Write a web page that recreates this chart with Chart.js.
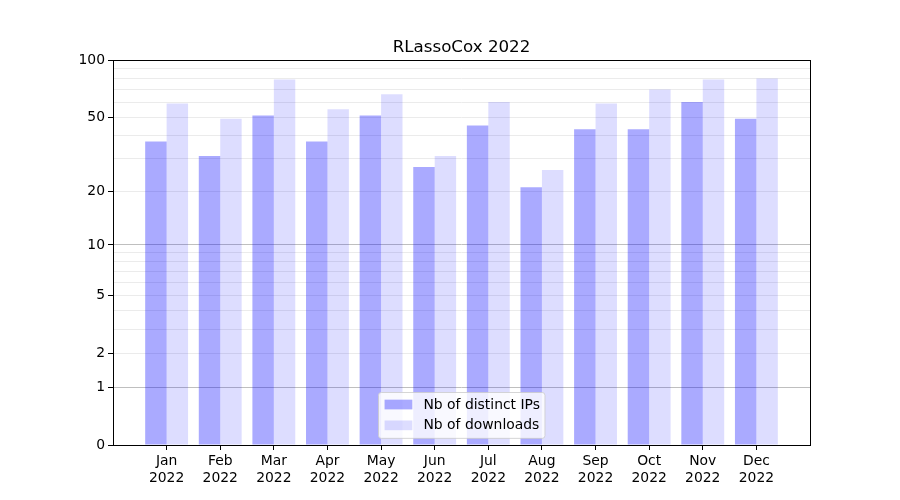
<!DOCTYPE html>
<html><head><meta charset="utf-8">
<script src="https://cdn.jsdelivr.net/npm/chart.js@4.4.1/dist/chart.umd.min.js"></script>
<style>html,body{margin:0;padding:0;background:#fff}#wrap{width:900px;height:500px;position:relative}</style>
</head><body><div id="wrap"><canvas id="c" width="900" height="500"></canvas></div>
<script>
const chartTitle = 'RLassoCox 2022';
const months = ['Jan','Feb','Mar','Apr','May','Jun','Jul','Aug','Sep','Oct','Nov','Dec'];
const year = '2022';
const seriesNames = ['Nb of distinct IPs', 'Nb of downloads'];
const distinctIPs = [37, 31, 51, 37, 51, 27, 45, 21, 43, 43, 60, 49];
const downloads   = [59, 49, 79, 55, 66, 31, 60, 26, 59, 70, 79, 80];
const yTickValues = [0,1,2,3,4,5,6,7,8,9,10,20,30,40,50,60,70,80,90,100];
const yLabelled = [0,1,2,5,10,20,50,100];
const yMajor = [1,10,100];
const seriesColors = ['rgba(0,0,255,0.333)', 'rgba(0,0,255,0.133)'];

const FONT = 'DejaVu Sans';
const f = v => Math.log10(1 + v);
const inv = t => Math.round(Math.pow(10, t) - 1);

const labels = [''].concat(months.map(m => [m, year])).concat(['']);
const pad = arr => [null].concat(arr.map(f)).concat([null]);

const framePlugin = {
  id: 'frameLegend',
  afterDatasetsDraw(chart) {
    const ca = chart.chartArea, ctx = chart.ctx;
    ctx.save();
    ctx.strokeStyle = '#000';
    ctx.lineWidth = 1;
    ctx.strokeRect(Math.round(ca.left) + 0.5, Math.round(ca.top) + 0.5,
                   Math.round(ca.right - ca.left), Math.round(ca.bottom - ca.top));
    // title, centred on the plot area
    ctx.fillStyle = '#000';
    ctx.font = '16.7px "' + FONT + '"';
    ctx.textAlign = 'center';
    ctx.textBaseline = 'middle';
    ctx.fillText(chartTitle, (ca.left + ca.right) / 2, ca.top - 12.5);
    // legend
    const fs = 13.9;
    ctx.font = fs + 'px "' + FONT + '"';
    const tw = Math.max(...seriesNames.map(s => ctx.measureText(s).width));
    const bp = 0.4 * fs, hl = 2.0 * fs, htp = 0.8 * fs, ls = 0.5 * fs;
    const w = 2 * bp + hl + htp + tw;
    const h = 2 * bp + 2 * fs + ls;
    const cx = (ca.left + ca.right) / 2;
    const x0 = Math.round(cx - w / 2);
    const y0 = Math.round(ca.bottom - 0.5 * fs - h);
    ctx.beginPath();
    if (ctx.roundRect) ctx.roundRect(x0 + 0.5, y0 + 0.5, w, h, 2.8); else ctx.rect(x0 + 0.5, y0 + 0.5, w, h);
    ctx.fillStyle = 'rgba(255,255,255,0.8)';
    ctx.fill();
    ctx.strokeStyle = 'rgba(204,204,204,0.8)';
    ctx.lineWidth = 1;
    ctx.stroke();
    ctx.textBaseline = 'middle';
    ctx.textAlign = 'left';
    seriesNames.forEach((name, i) => {
      const cy = y0 + bp + fs / 2 + i * (fs + ls);
      ctx.fillStyle = seriesColors[i];
      ctx.fillRect(x0 + bp + 1, cy - 0.35 * fs, hl, 0.7 * fs);
      ctx.fillStyle = '#000';
      ctx.fillText(name, x0 + bp + 1 + hl + htp, cy + 0.5);
    });
    ctx.restore();
  }
};

new Chart(document.getElementById('c'), {
  type: 'bar',
  data: {
    labels: labels,
    datasets: [
      { label: seriesNames[0], data: pad(distinctIPs), backgroundColor: seriesColors[0], borderWidth: 0 },
      { label: seriesNames[1], data: pad(downloads), backgroundColor: seriesColors[1], borderWidth: 0 }
    ]
  },
  options: {
    responsive: false,
    devicePixelRatio: 1,
    animation: false,
    events: [],
    datasets: { bar: { categoryPercentage: 0.8, barPercentage: 1.0 } },
    layout: { padding: { left: 0, right: 90, top: 60, bottom: 0 } },
    plugins: {
      legend: { display: false },
      tooltip: { enabled: false },
      title: { display: false }
    },
    scales: {
      x: {
        type: 'category',
        offset: false,
        border: { display: false },
        grid: {
          offset: false,
          drawOnChartArea: false, drawTicks: true, tickLength: 5,
          tickColor: c => (c.index === 0 || c.index === labels.length - 1) ? 'rgba(0,0,0,0)' : '#000'
        },
        ticks: {
          autoSkip: false, maxRotation: 0, minRotation: 0, padding: 3, color: '#000',
          font: { family: FONT, size: 13.9, lineHeight: 1.2 }
        },
        afterFit: s => { s.height = 55; }
      },
      y: {
        type: 'linear',
        min: 0,
        max: f(100),
        border: { display: false },
        afterBuildTicks: s => { s.ticks = yTickValues.map(v => ({ value: f(v) })); },
        grid: {
          tickLength: 5,
          color: c => yMajor.includes(inv(c.tick.value)) ? '#bfbfbf' : '#ebebeb',
          tickColor: c => yLabelled.includes(inv(c.tick.value)) ? '#000' : 'rgba(0,0,0,0)'
        },
        ticks: {
          autoSkip: false, padding: 3, color: '#000',
          font: { family: FONT, size: 13.9 },
          callback: v => { const r = inv(v); return yLabelled.includes(r) ? String(r) : ''; }
        },
        afterFit: s => { s.width = 113; }
      }
    }
  },
  plugins: [framePlugin]
});
</script>
</body></html>
